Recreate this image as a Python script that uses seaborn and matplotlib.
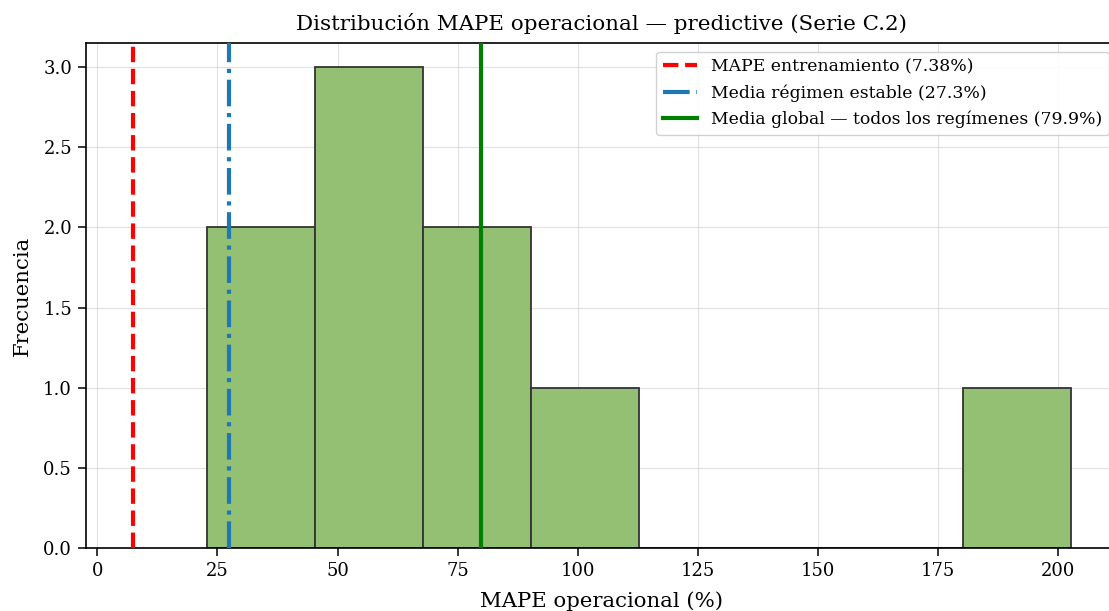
import matplotlib
matplotlib.use("Agg")
import matplotlib.pyplot as plt
import seaborn as sns
import numpy as np
import pandas as pd

mape_values = [22.9, 31.7, 52.0, 62.0, 66.7, 78.0, 89.0, 112.0, 202.8]
mape_train = 7.38
mean_stable = 27.3
mean_global = 79.9

plt.rcParams['font.family'] = ['DejaVu Serif']

fig = plt.figure(figsize=(11.09, 6.11), dpi=100)
ax = fig.add_axes([86/1109, 1 - 548/611, (1118-86)/1109, (548-43)/611])

df = pd.DataFrame({"mape": mape_values})
sns.histplot(data=df, x="mape", bins=8, ax=ax, color="#94c073", alpha=1.0,
             edgecolor="#333333", linewidth=1.3, zorder=2)

ax.axvline(mape_train, color="red", linestyle="--", linewidth=3,
           label=f"MAPE entrenamiento ({mape_train:.2f}%)", zorder=3)
ax.axvline(mean_stable, color="#1f77b4", linestyle="-.", linewidth=3,
           label=f"Media régimen estable ({mean_stable:.1f}%)", zorder=3)
ax.axvline(mean_global, color="green", linestyle="-", linewidth=3,
           label=f"Media global — todos los regímenes ({mean_global:.1f}%)", zorder=3)

ax.set_xlim(-2.39, 212.57)
ax.set_ylim(0, 3.15)
ax.set_xticks([0, 25, 50, 75, 100, 125, 150, 175, 200])
ax.set_yticks([0, 0.5, 1.0, 1.5, 2.0, 2.5, 3.0])
ax.grid(True, color="#cccccc", alpha=0.6, linewidth=0.8, zorder=0)
ax.set_axisbelow(True)
ax.tick_params(labelsize=13, length=5.5, width=1.1, pad=4.5)
ax.set_xlabel("MAPE operacional (%)", fontsize=15.3, labelpad=8.5)
ax.set_ylabel("Frecuencia", fontsize=15.3, labelpad=8.3)
ax.set_title("Distribución MAPE operacional — predictive (Serie C.2)", fontsize=15.4, pad=9)
ax.legend(loc="upper right", fontsize=12.4, framealpha=0.9)
for s in ax.spines.values():
    s.set_color("black")
    s.set_linewidth(1.2)

fig.savefig("out.png", dpi=100)
